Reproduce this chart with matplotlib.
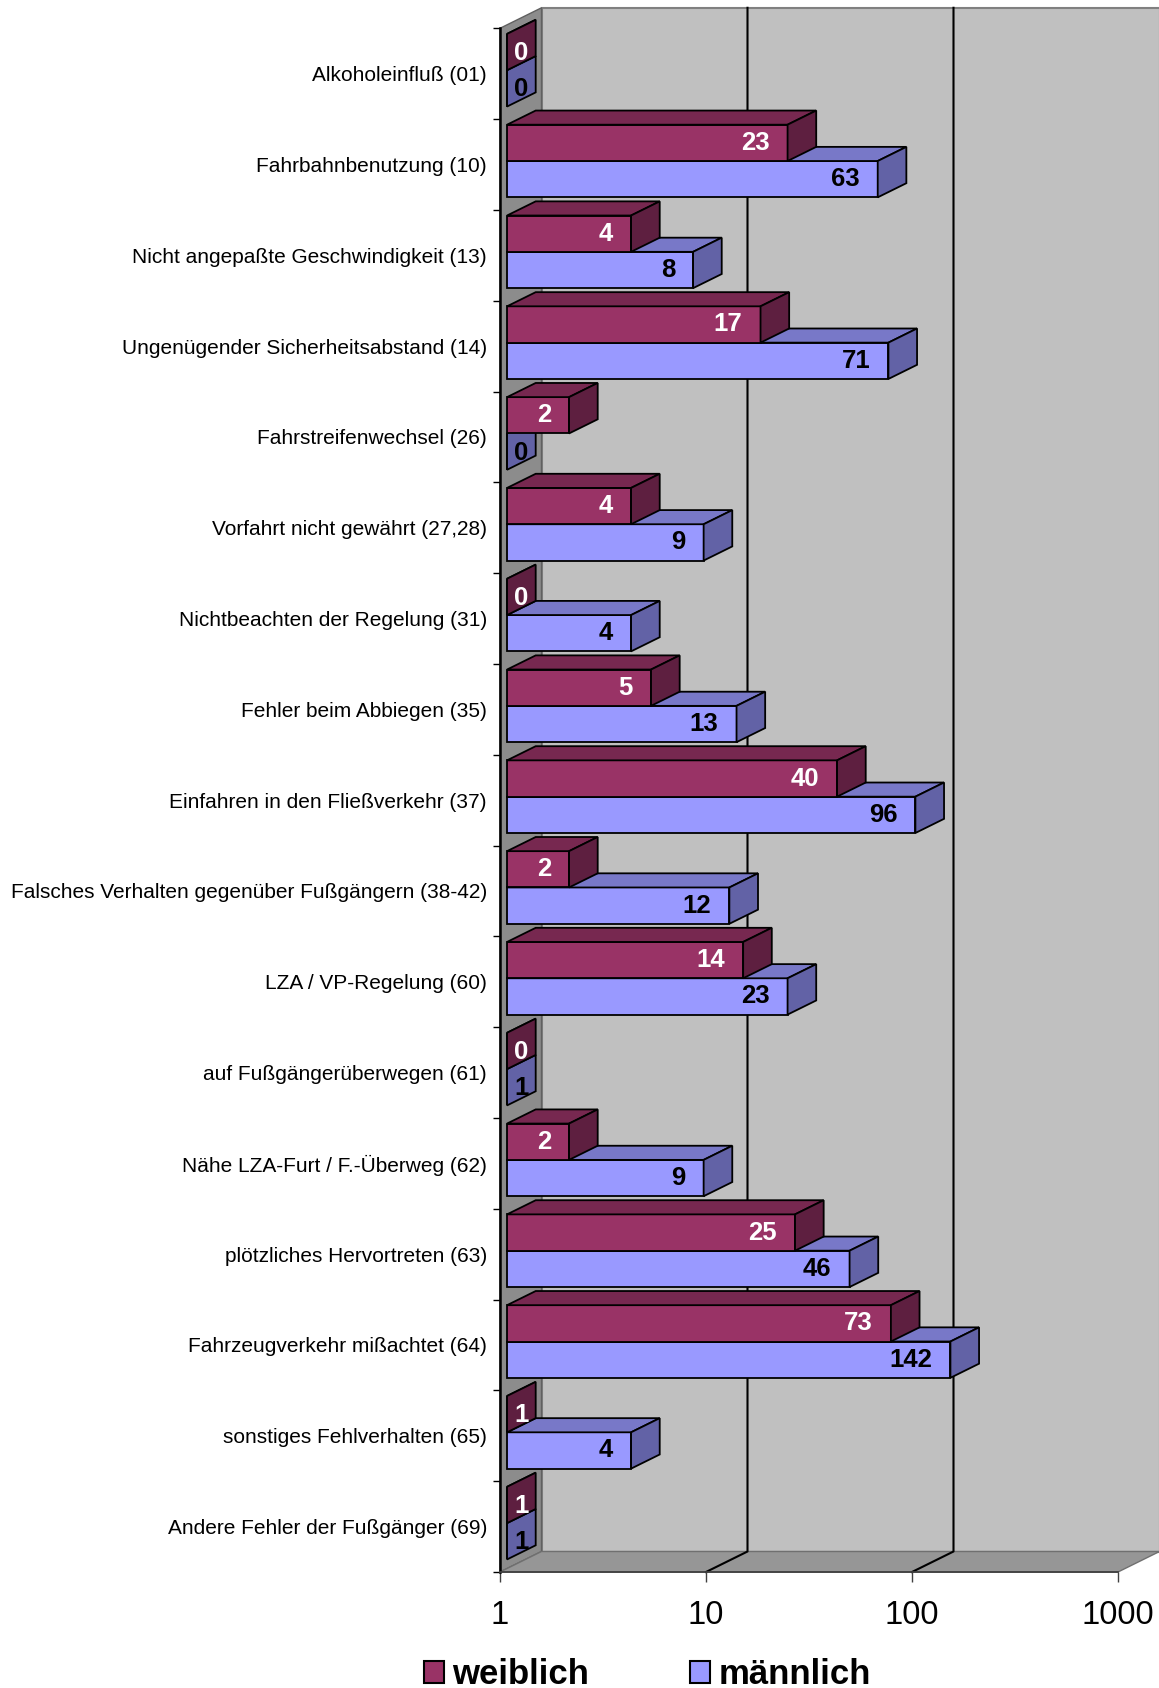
import numpy as np
import matplotlib.pyplot as plt
from matplotlib.patches import Polygon, Patch

categories = [
    "Alkoholeinfluß (01)",
    "Fahrbahnbenutzung (10)",
    "Nicht angepaßte Geschwindigkeit (13)",
    "Ungenügender Sicherheitsabstand (14)",
    "Fahrstreifenwechsel (26)",
    "Vorfahrt nicht gewährt (27,28)",
    "Nichtbeachten der Regelung (31)",
    "Fehler beim Abbiegen (35)",
    "Einfahren in den Fließverkehr (37)",
    "Falsches Verhalten gegenüber Fußgängern (38-42)",
    "LZA / VP-Regelung (60)",
    "auf Fußgängerüberwegen (61)",
    "Nähe LZA-Furt / F.-Überweg (62)",
    "plötzliches Hervortreten (63)",
    "Fahrzeugverkehr mißachtet (64)",
    "sonstiges Fehlverhalten (65)",
    "Andere Fehler der Fußgänger (69)",
]
weiblich = [0, 23, 4, 17, 2, 4, 0, 5, 40, 2, 14, 0, 2, 25, 73, 1, 1]
maennlich = [0, 63, 8, 71, 0, 9, 4, 13, 96, 12, 23, 1, 9, 46, 142, 4, 1]
xticks = [1, 10, 100, 1000]
xticklabels = ["1", "10", "100", "1000"]

plt.rcParams['font.family'] = ['Liberation Sans', 'DejaVu Sans']

W, H = 1159, 1688
fig = plt.figure(figsize=(W / 100, H / 100), dpi=100)

# front plane of the 3d box (pixels from top-left)
x0, x1 = 500, 1118
y_top, y_bot = 28.3, 1572
ax = fig.add_axes([x0 / W, (H - y_bot) / H, (x1 - x0) / W, (y_bot - y_top) / H])
ax.set_xscale('log')
ax.set_xlim(1, 1000)
n = len(categories)
ax.set_ylim(n - 0.5, -0.5)
ax.patch.set_visible(False)

depth = np.array([41.5, 20.5])  # depth direction in display pixels


def pt(x, y, f=0.0):
    d = ax.transData.transform((x, y)) + f * depth
    return ax.transData.inverted().transform(d)


def face(pts, color, z, ec='black', lw=1.3):
    ax.add_patch(Polygon(pts, closed=True, fc=color, ec=ec, lw=lw, zorder=z,
                         clip_on=False, joinstyle='miter'))


# walls and floor
top, bot = -0.5, n - 0.5
face([pt(1, top, 1), pt(1000, top, 1), pt(1000, bot, 1), pt(1, bot, 1)], '#c0c0c0', 0.5, ec='#808080', lw=1.5)
face([pt(1, top, 0), pt(1, top, 1), pt(1, bot, 1), pt(1, bot, 0)], '#8c8c8c', 0.6, ec='#606060', lw=1)
face([pt(1, bot, 0), pt(1000, bot, 0), pt(1000, bot, 1), pt(1, bot, 1)], '#969696', 0.6, ec='#707070', lw=1)

for v in [10, 100]:
    p = np.array([pt(v, bot, 0), pt(v, bot, 1), pt(v, top, 1)])
    ax.plot(p[:, 0], p[:, 1], color='black', lw=1.5, zorder=0.8, clip_on=False)

# bars
f0, f1 = 0.17, 0.86
h = 0.4
styles = {
    'w': ('#993366', '#772850', '#5e1f40', 'white'),
    'm': ('#9999ff', '#7878c8', '#6262a6', 'black'),
}

z = 3
for i in reversed(range(n)):
    for key, vals, ya in [('m', maennlich, i), ('w', weiblich, i - h)]:
        v = vals[i]
        yb = ya + h
        xe = max(v, 1)
        fc, tc, sc, lc = styles[key]
        face([pt(1, ya, f0), pt(xe, ya, f0), pt(xe, yb, f0), pt(1, yb, f0)], fc, z)
        face([pt(1, ya, f0), pt(xe, ya, f0), pt(xe, ya, f1), pt(1, ya, f1)], tc, z)
        face([pt(xe, ya, f0), pt(xe, ya, f1), pt(xe, yb, f1), pt(xe, yb, f0)], sc, z)
        ym = (ya + yb) / 2
        if v > 1:
            off, ha = (f0 * depth[0] - 18, f0 * depth[1]), 'right'
        else:
            off, ha = ((f0 + f1) / 2 * depth[0], f0 * depth[1] - 1), 'center'
        ax.annotate(str(v), xy=(xe, ym), xytext=off, textcoords='offset pixels',
                    ha=ha, va='center', fontsize=18.5, fontweight='bold',
                    color=lc, zorder=z + 0.5, annotation_clip=False)
        z += 1

# axes
for s in ['top', 'right']:
    ax.spines[s].set_visible(False)
ax.spines['left'].set_linewidth(1.8)
ax.spines['left'].set_zorder(2)
ax.spines['bottom'].set_color('#404040')
ax.spines['bottom'].set_linewidth(1.3)

ax.set_yticks(np.arange(n + 1) - 0.5)
ax.set_yticklabels([])
ax.set_yticks(range(n), minor=True)
ax.set_yticklabels(categories, minor=True, fontsize=15)
ax.tick_params(axis='y', which='major', length=5, width=1, direction='out')
ax.tick_params(axis='y', which='minor', length=0, pad=9.4)

ax.set_xticks(xticks)
ax.set_xticklabels(xticklabels, fontsize=23.5)
ax.xaxis.set_minor_locator(plt.NullLocator())
ax.tick_params(axis='x', which='major', length=7, width=1, color='#404040', pad=13)

handles = [Patch(fc='#993366', ec='black', lw=1.5, label='weiblich'),
           Patch(fc='#9999ff', ec='black', lw=1.5, label='männlich')]
fig.legend(handles=handles, loc='center', bbox_to_anchor=(0.5587, 0.008), ncol=2,
           frameon=False, prop={'size': 25, 'weight': 'bold'}, handlelength=0.58,
           handleheight=0.58, handletextpad=0.24, columnspacing=2.9, borderpad=0)

fig.savefig('out.png', dpi=100)
